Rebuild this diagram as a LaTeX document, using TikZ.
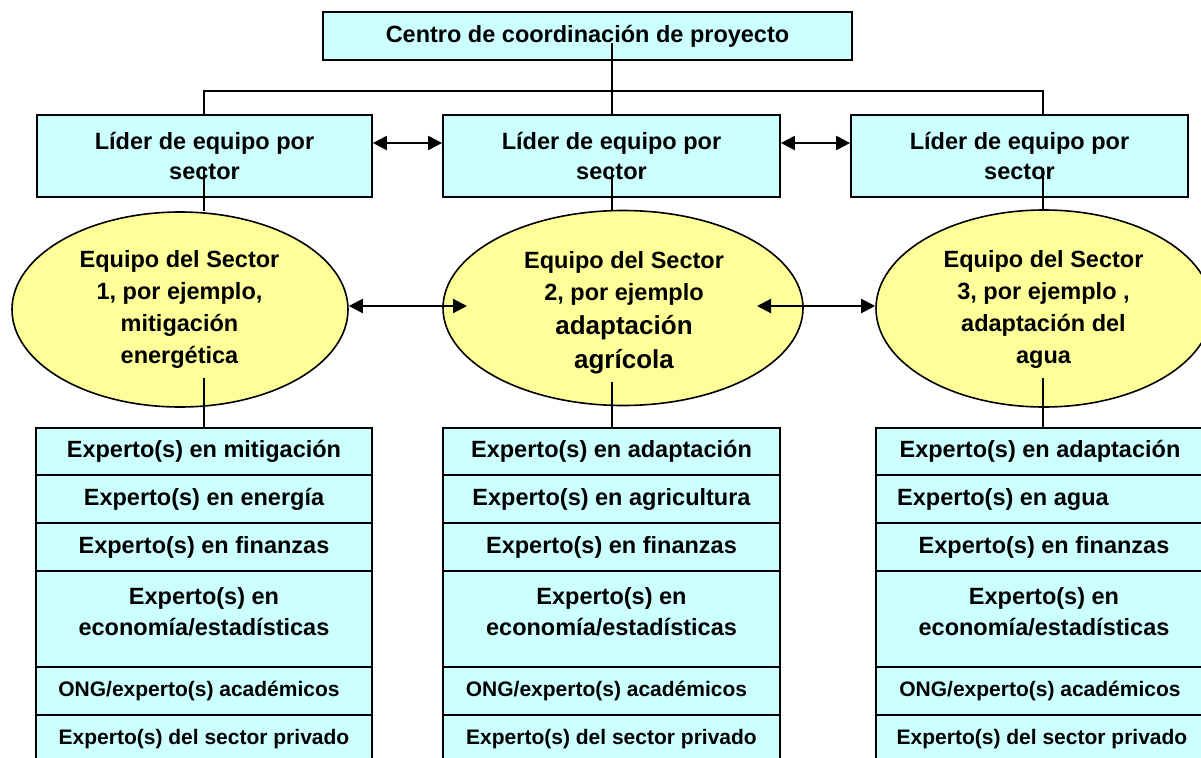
\documentclass[tikz,border=0pt]{standalone}
\usepackage{fontspec}
\setmainfont{Liberation Sans}
\usetikzlibrary{arrows.meta,shapes.geometric}
\definecolor{boxcyan}{HTML}{CCFFFF}
\definecolor{ellyellow}{HTML}{FFFF99}
\newcommand\fmain{\fontsize{23.5}{30}\selectfont\bfseries}
\newcommand\fell{\fontsize{23.5}{31.7}\selectfont\bfseries}
\newcommand\fsmall{\fontsize{21}{26}\selectfont\bfseries}
\newcommand\fbig{\fontsize{26}{34}\selectfont\bfseries}
\begin{document}
\begin{tikzpicture}[x=1pt,y=-1pt,
  cbox/.style={draw=black, line width=1.8pt, fill=boxcyan, inner sep=0pt, align=center, font=\fmain},
  ell/.style={ellipse, draw=black, line width=1.6pt, fill=ellyellow, inner sep=0pt},
  txt/.style={inner sep=0pt, align=center, font=\fell},
  conn/.style={line width=1.6pt},
  biarrow/.style={line width=2.2pt, {Triangle[length=14pt,width=14pt]}-{Triangle[length=14pt,width=14pt]}},
  col1/.style={cbox, minimum width=336pt},
  col2/.style={cbox, minimum width=337pt},
  col3/.style={cbox, minimum width=332pt},
]
\useasboundingbox (0,0) rectangle (1201,757);
\clip (0,0) rectangle (1201,757);

% top box
\node[cbox, minimum width=529pt, minimum height=48pt] (c) at (587.5,36) {Centro de coordinación de proyecto};

% leaders
\node[cbox, minimum width=335pt, minimum height=82pt] (l1) at (204.5,156) {Líder de equipo por\\sector};
\node[cbox, minimum width=337pt, minimum height=82pt] (l2) at (611.5,156) {Líder de equipo por\\sector};
\node[cbox, minimum width=337pt, minimum height=82pt] (l3) at (1019.5,156) {Líder de equipo por\\sector};

% ellipses
\node[ell, minimum width=336pt, minimum height=195pt] (e1) at (180,309.5) {};
\node[ell, minimum width=360pt, minimum height=195pt] (e2) at (623,308) {};
\node[ell, minimum width=336pt, minimum height=197pt] (e3) at (1044,308.5) {};
\node[txt] (e1t) at (179.5,309.5) {Equipo del Sector\\1, por ejemplo,\\mitigación\\energética};
\node[txt, font=\fontsize{23.5}{32}\selectfont\bfseries] (e2ta) at (624,278) {Equipo del Sector\\2, por ejemplo};
\node[txt, font=\fbig] (e2tb) at (624,345) {adaptación\\agrícola};
\node[txt] (e3t) at (1043.5,309.5) {Equipo del Sector\\3, por ejemplo ,\\adaptación del\\agua};

% expert column 1
\node[col1, minimum height=47pt] (b1r1) at (204,451.5) {Experto(s) en mitigación};
\node[col1, minimum height=48pt] (b1r2) at (204,499) {Experto(s) en energía};
\node[col1, minimum height=48pt] (b1r3) at (204,547) {Experto(s) en finanzas};
\node[col1, minimum height=96pt] (b1r4) at (204,619) {};
\node[txt, font=\fontsize{23.5}{31}\selectfont\bfseries] (b1r4t) at (204,611.5) {Experto(s) en\\economía/estadísticas};
\node[col1, minimum height=48pt, font=\fsmall] (b1r5) at (204,691) {ONG/experto(s) académicos\hspace*{10pt}};
\node[col1, minimum height=48pt, font=\fsmall] (b1r6) at (204,739) {Experto(s) del sector privado};

% expert column 2
\node[col2, minimum height=47pt] (b2r1) at (611.5,451.5) {Experto(s) en adaptación};
\node[col2, minimum height=48pt] (b2r2) at (611.5,499) {Experto(s) en agricultura};
\node[col2, minimum height=48pt] (b2r3) at (611.5,547) {Experto(s) en finanzas};
\node[col2, minimum height=96pt] (b2r4) at (611.5,619) {};
\node[txt, font=\fontsize{23.5}{31}\selectfont\bfseries] (b2r4t) at (611.5,611.5) {Experto(s) en\\economía/estadísticas};
\node[col2, minimum height=48pt, font=\fsmall] (b2r5) at (611.5,691) {ONG/experto(s) académicos\hspace*{10pt}};
\node[col2, minimum height=48pt, font=\fsmall] (b2r6) at (611.5,739) {Experto(s) del sector privado};

% expert column 3
\node[col3, minimum height=47pt] (b3r1) at (1042,451.5) {Experto(s) en adaptación\hspace*{4pt}};
\node[col3, minimum height=48pt] (b3r2) at (1042,499) {};
\node[txt, font=\fmain, anchor=west] (b3r2t) at (897,499) {Experto(s) en agua};
\node[col3, minimum height=48pt] (b3r3) at (1042,547) {\hspace*{4pt}Experto(s) en finanzas};
\node[col3, minimum height=96pt] (b3r4) at (1042,619) {};
\node[txt, font=\fontsize{23.5}{31}\selectfont\bfseries] (b3r4t) at (1044,611.5) {Experto(s) en\\economía/estadísticas};
\node[col3, minimum height=48pt, font=\fsmall] (b3r5) at (1042,691) {ONG/experto(s) académicos\hspace*{4pt}};
\node[col3, minimum height=48pt, font=\fsmall] (b3r6) at (1042,739) {Experto(s) del sector privado};

% connectors
\coordinate (t0) at (612,43);
\draw[conn] (t0) -- (t0 |- l2.north);
\coordinate (h1) at (204,91);
\coordinate (h3) at (1043,91);
\draw[conn] (h1 |- l1.north) -- (h1) -- (h3) -- (h3 |- l3.north);

\coordinate (s1) at (204,168);
\coordinate (s2) at (612,168);
\coordinate (s3) at (1043,168);
\draw[conn] (s1) -- (s1 |- e1.north);
\draw[conn] (s2) -- (s2 |- e2.north);
\draw[conn] (s3) -- (s3 |- e3.north);

\coordinate (d1) at (204,378);
\coordinate (d2) at (612,382);
\coordinate (d3) at (1043,378);
\draw[conn] (d1) -- (d1 |- b1r1.north);
\draw[conn] (d2) -- (d2 |- b2r1.north);
\draw[conn] (d3) -- (d3 |- b3r1.north);

% arrows
\coordinate (ya) at (0,143);
\draw[biarrow] (l1.east |- ya) -- (l2.west |- ya);
\draw[biarrow] (l2.east |- ya) -- (l3.west |- ya);
\coordinate (a1) at (467,306);
\coordinate (a2) at (757,306);
\draw[biarrow] (e1.east |- a1) -- (a1);
\draw[biarrow] (a2) -- (e3.west |- a2);
\end{tikzpicture}
\end{document}
